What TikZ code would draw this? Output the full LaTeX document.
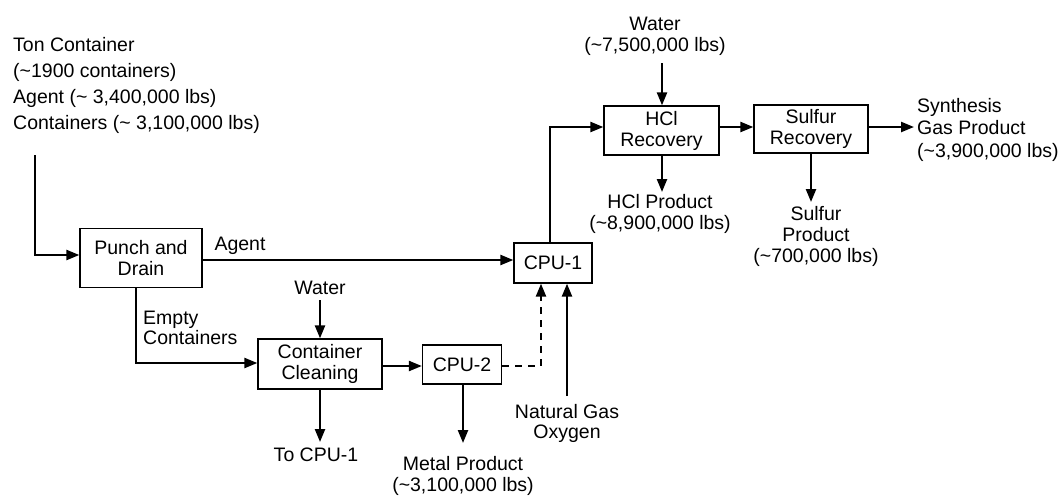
\documentclass[tikz,border=0pt]{standalone}
\usepackage{fontspec}
\setmainfont{Liberation Sans}
\usetikzlibrary{arrows.meta}
\begin{document}
\begin{tikzpicture}[x=1pt,y=-1pt,
  every node/.style={font=\fontsize{19.5}{21}\selectfont, inner sep=0pt},
  unit/.style={draw, line width=1.3pt, align=center},
  lbl/.style={align=center},
  lbll/.style={align=left},
  flow/.style={line width=2.3pt, -{Triangle[length=13pt,width=10pt]}},
  dflow/.style={flow, dash pattern=on 7pt off 6pt}
]
\useasboundingbox (0,0) rectangle (1062,496);
% units
\node[unit, minimum width=122pt, minimum height=59pt] (punch) at (141,258) {Punch and\\Drain};
\node[unit, minimum width=78pt, minimum height=40pt] (cpu1) at (553,263) {CPU-1};
\node[unit, minimum width=124pt, minimum height=50pt] (cc) at (320,364) {Container\\Cleaning};
\node[unit, minimum width=79pt, minimum height=39pt] (cpu2) at (462,364.5) {CPU-2};
\node[unit, minimum width=115pt, minimum height=49pt] (hcl) at (661.5,130.5) {HCl\\Recovery};
\node[unit, minimum width=114pt, minimum height=48pt] (sulfur) at (811,129) {Sulfur\\Recovery};
% labels
\node[lbll, anchor=north west, font=\fontsize{19.5}{26}\selectfont] (feed) at (13,37)
  {Ton Container\\(\textasciitilde1900 containers)\\Agent (\textasciitilde{} 3,400,000 lbs)\\Containers (\textasciitilde{} 3,100,000 lbs)};
\node[lbl] (agentlbl) at (240,246) {Agent};
\node[lbll, anchor=north west, font=\fontsize{19.5}{20}\selectfont] (emptylbl) at (143,311) {Empty\\Containers};
\node[lbl] (water1) at (320,288) {Water};
\node[lbl] (tocpu) at (316,455) {To CPU-1};
\node[lbl] (metal) at (463,476) {Metal Product\\(\textasciitilde3,100,000 lbs)};
\node[lbl, font=\fontsize{19.5}{20}\selectfont] (gas) at (567,423) {Natural Gas\\Oxygen};
\node[lbl] (water2) at (655,36) {Water\\(\textasciitilde7,500,000 lbs)};
\node[lbl] (hclprod) at (660,213.5) {HCl Product\\(\textasciitilde8,900,000 lbs)};
\node[lbl] (sprod) at (816,236.5) {Sulfur\\Product\\(\textasciitilde700,000 lbs)};
\node[lbll, anchor=west, font=\fontsize{19.5}{22.5}\selectfont] (syn) at (917,129.5) {Synthesis\\Gas Product\\(\textasciitilde3,900,000 lbs)};
% free ends
\coordinate (fin) at (35,155);
\coordinate (w2end) at (662,63);
\coordinate (w1end) at (320,300);
\coordinate (synend) at (914,127);
\coordinate (hclend) at (662,192);
\coordinate (sulend) at (811,202);
\coordinate (ccend) at (320,442);
\coordinate (cpu2end) at (463,443);
\coordinate (gasend) at (567,396);
% flows
\draw[flow] (fin) |- (punch.west |- 0,255);
\draw[flow] (punch.east |- 0,260) -- (cpu1.west |- 0,260);
\draw[flow] (punch.south -| 136,0) |- (cc.west |- 0,363);
\draw[flow] (w1end) -- (cc.north);
\draw[flow] (cc.east |- 0,366) -- (cpu2.west |- 0,366);
\draw[flow] (cc.south) -- (ccend);
\draw[flow] (cpu2.south -| cpu2end) -- (cpu2end);
\draw[dflow] (cpu2.east |- 0,366) -| (cpu1.south -| 541,0);
\draw[flow] (gasend) -- (cpu1.south -| gasend);
\draw[flow] (cpu1.north -| 550,0) |- (hcl.west |- 0,127);
\draw[flow] (w2end) -- (hcl.north -| w2end);
\draw[flow] (hcl.east |- 0,127) -- (sulfur.west |- 0,127);
\draw[flow] (hcl.south -| hclend) -- (hclend);
\draw[flow] (sulfur.east |- 0,127) -- (synend);
\draw[flow] (sulfur.south) -- (sulend);
\end{tikzpicture}
\end{document}
